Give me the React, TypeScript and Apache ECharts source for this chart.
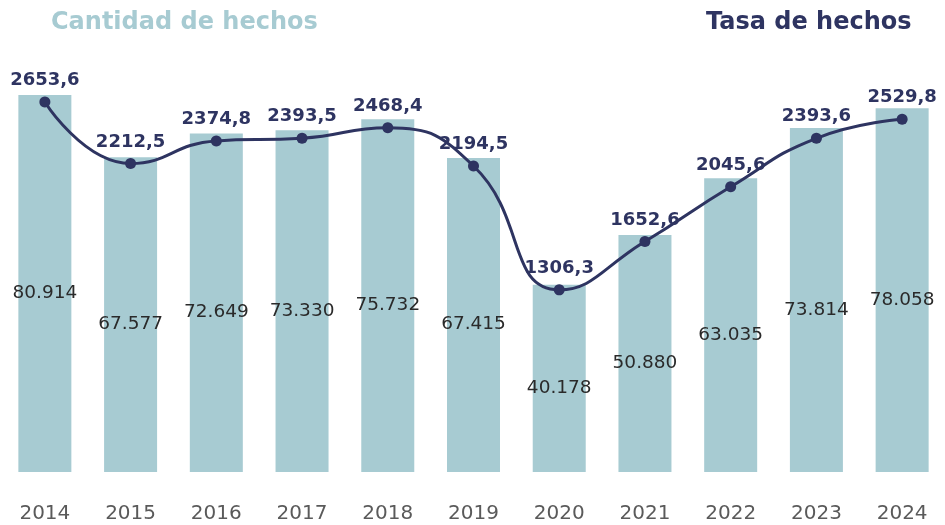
import React, { useEffect, useRef } from "react";
import * as echarts from "echarts";

const years = ["2014", "2015", "2016", "2017", "2018", "2019", "2020", "2021", "2022", "2023", "2024"];
const cantidad = [80914, 67577, 72649, 73330, 75732, 67415, 40178, 50880, 63035, 73814, 78058];
const tasa = [2653.6, 2212.5, 2374.8, 2393.5, 2468.4, 2194.5, 1306.3, 1652.6, 2045.6, 2393.6, 2529.8];

const TEAL = "#a7cbd2";
const NAVY = "#2e3461";

export default function App() {
  const ref = useRef<HTMLDivElement>(null);
  useEffect(() => {
    if (!ref.current) return;
    const chart = echarts.init(ref.current, undefined, { renderer: "svg" });
    const fmtInt = (v: number) => {
      const s = String(Math.round(v));
      return s.replace(/\B(?=(\d{3})+(?!\d))/g, ".");
    };
    chart.setOption({
      animation: false,
      title: [
        {
          text: "Cantidad de hechos",
          left: 46,
          top: 4,
          textStyle: { color: TEAL, fontSize: 24, fontWeight: "bold", fontFamily: "DejaVu Sans" },
        },
        {
          text: "Tasa de hechos",
          left: 701,
          top: 4,
          textStyle: { color: NAVY, fontSize: 24, fontWeight: "bold", fontFamily: "DejaVu Sans" },
        },
      ],
      grid: { left: 2, width: 947, top: 60, bottom: 53 },
      xAxis: {
        type: "category",
        data: years,
        axisLine: { show: false },
        axisTick: { show: false },
        axisLabel: { color: "#5a5a5a", fontSize: 20, margin: 30, fontFamily: "DejaVu Sans" },
      },
      yAxis: [
        { type: "value", min: 0, max: 88431, show: false, splitLine: { show: false } },
        { type: "value", min: 0, max: 2955, show: false, splitLine: { show: false } },
      ],
      series: [
        {
          type: "bar",
          data: cantidad,
          yAxisIndex: 0,
          barWidth: 53,
          itemStyle: { color: TEAL },
          label: {
            show: true,
            position: "inside",
            offset: [0, 8],
            color: "#2a2a2a",
            fontSize: 18.5,
            fontFamily: "DejaVu Sans",
            formatter: (p: any) => fmtInt(p.value),
          },
          z: 1,
        },
        {
          type: "line",
          data: tasa,
          yAxisIndex: 1,
          smooth: true,
          symbol: "circle",
          symbolSize: 11,
          lineStyle: { color: NAVY, width: 3 },
          itemStyle: { color: NAVY },
          label: {
            show: true,
            position: "top",
            distance: 9,
            color: NAVY,
            fontSize: 18,
            fontWeight: "bold",
            fontFamily: "DejaVu Sans",
            formatter: (p: any) => String(p.value.toFixed(1)).replace(".", ","),
          },
          z: 3,
        },
      ],
    });
    return () => chart.dispose();
  }, []);
  return <div ref={ref} style={{ position: "fixed", left: 0, top: 0, width: 945, height: 525 }} />;
}
